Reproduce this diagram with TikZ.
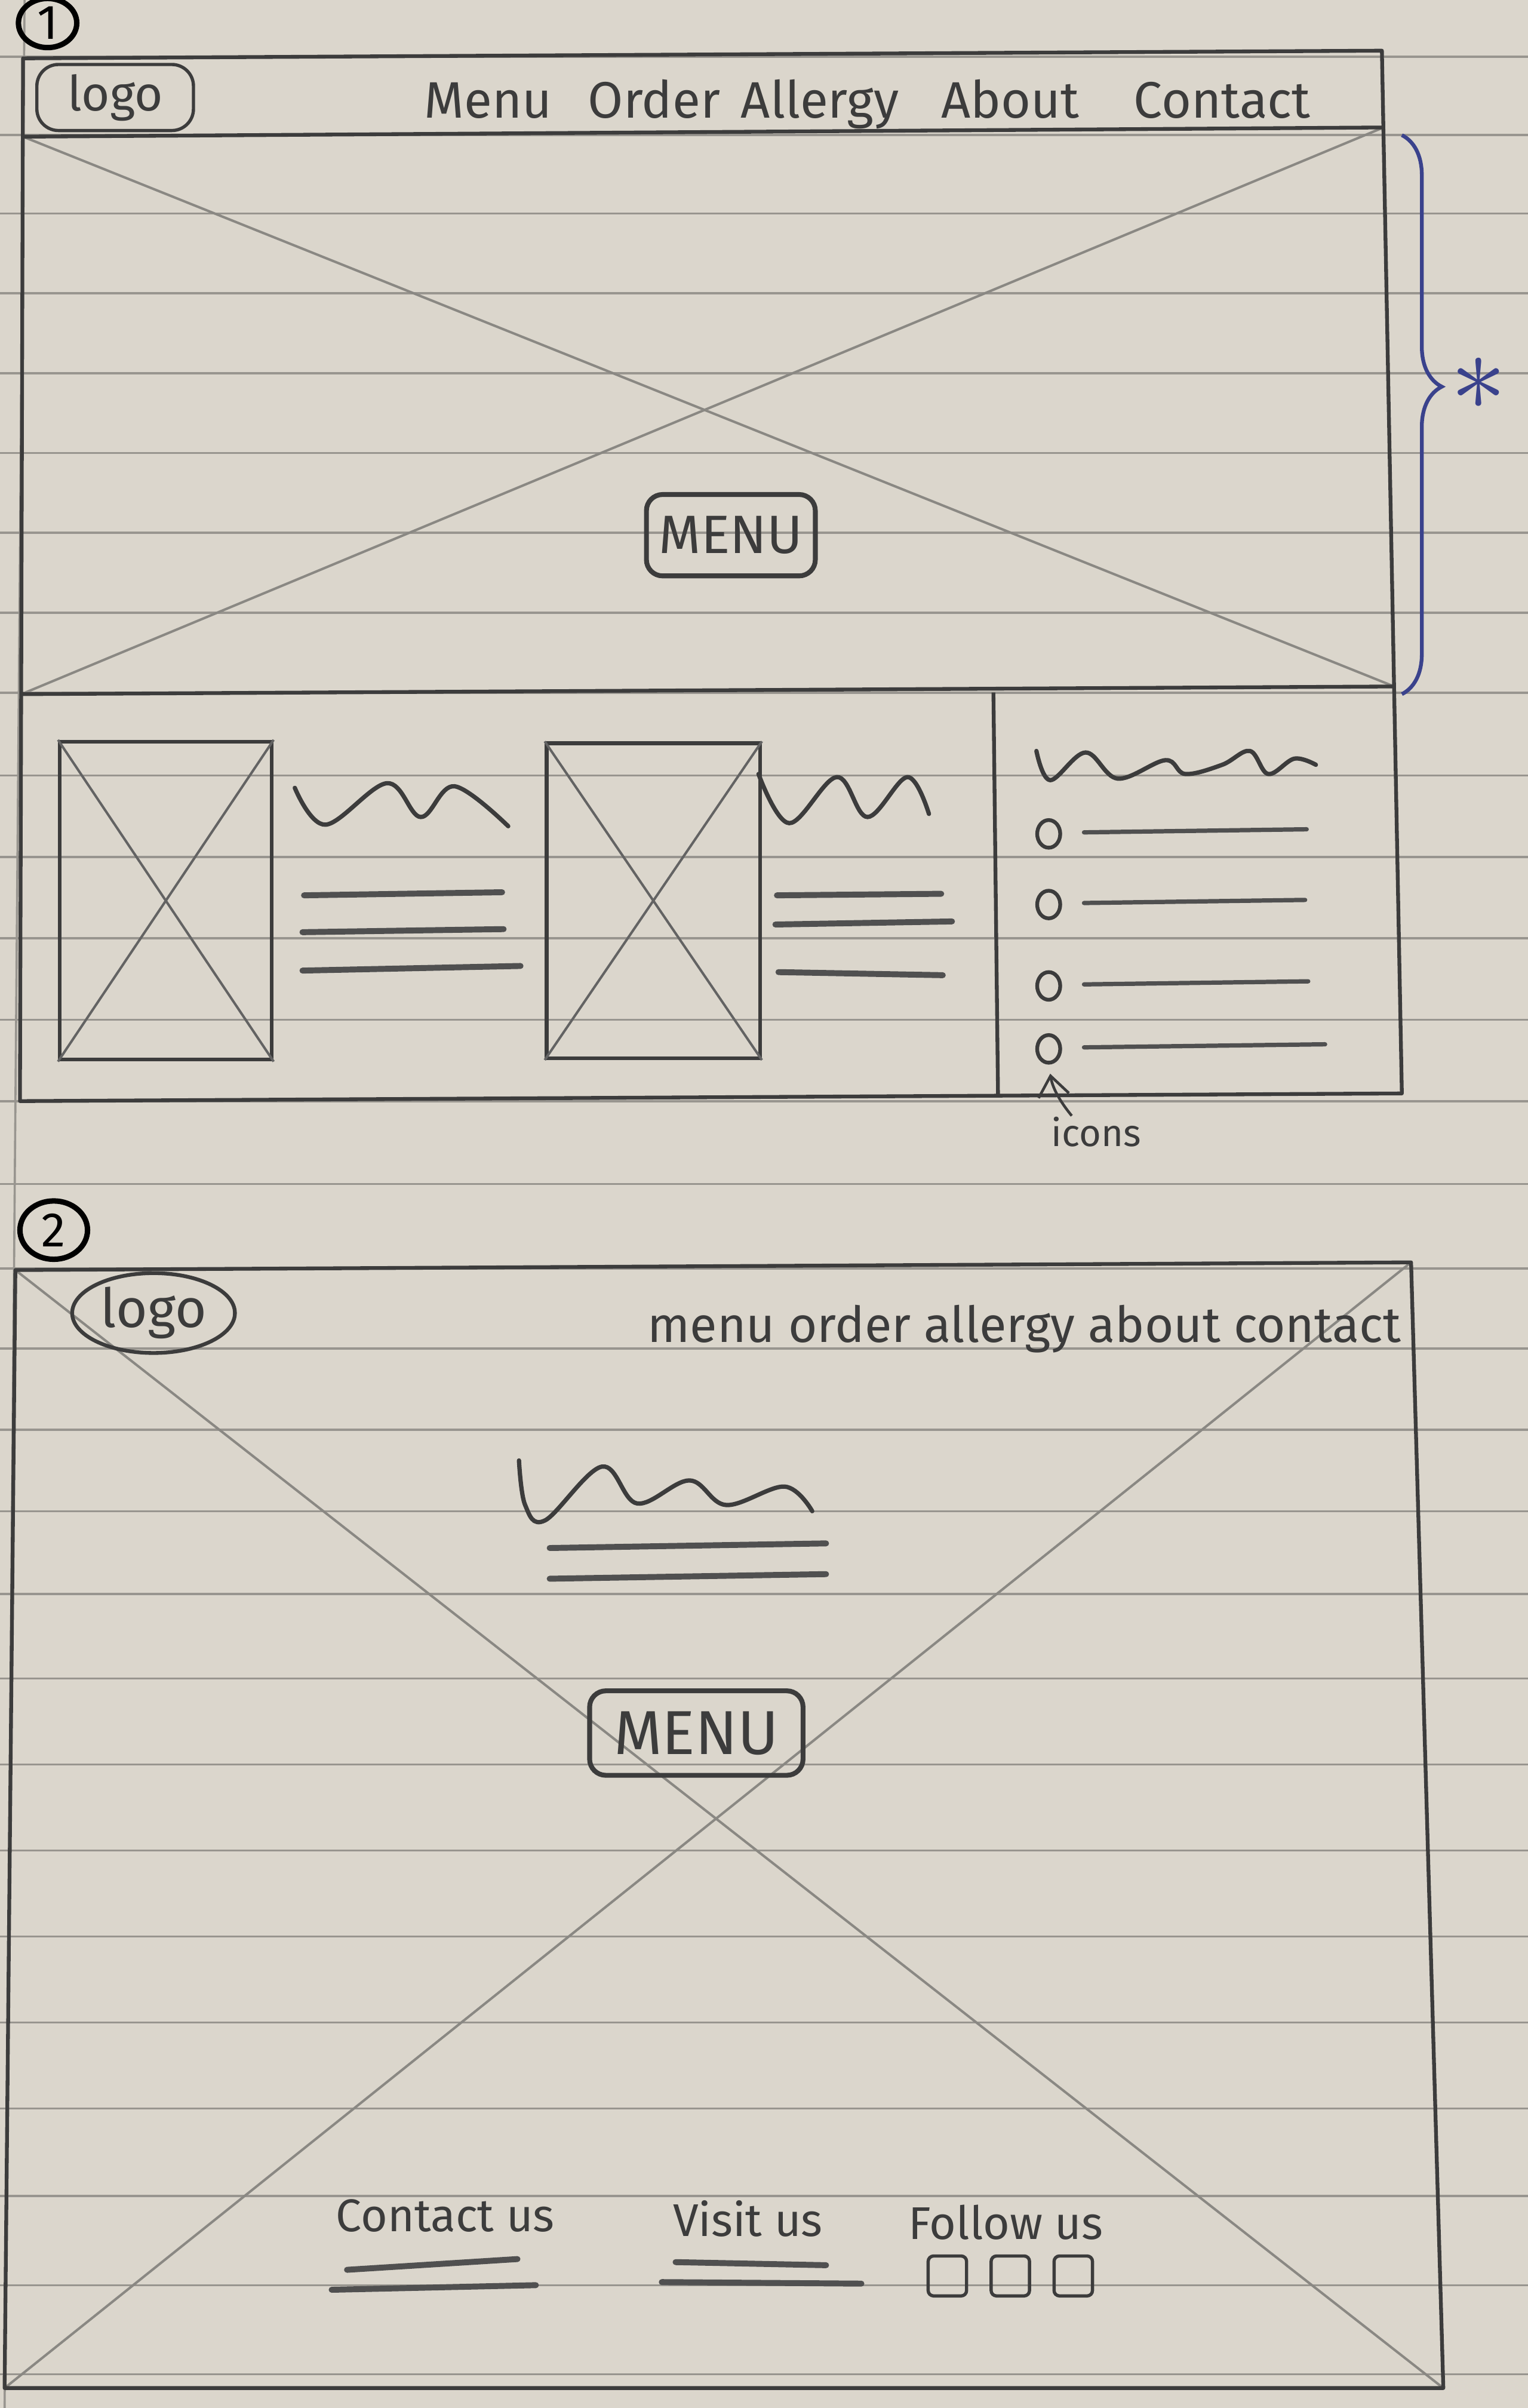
\documentclass[tikz,border=0pt]{standalone}
\usepackage{fontspec}
\setmainfont{Fira Sans}
\usetikzlibrary{arrows.meta, positioning, shapes.geometric, decorations.pathreplacing}

\definecolor{paper}{RGB}{219,214,204}
\definecolor{pencil}{RGB}{60,60,60}
\definecolor{faintpencil}{RGB}{138,136,131}
\definecolor{ruleline}{RGB}{152,149,143}
\definecolor{ink}{RGB}{58,66,140}

\tikzset{
  paperrule/.style={draw=ruleline, line width=0.4pt},
  boxline/.style={draw=pencil, line width=0.7pt, line join=round},
  xline/.style={draw=faintpencil, line width=0.45pt},
  scribble/.style={draw=pencil, line width=0.8pt, line cap=round, line join=round},
  textline/.style={draw=pencil!90, line width=1.1pt, line cap=round},
  navtxt/.style={font=\fontsize{9.5}{11}\selectfont, text=pencil, inner sep=0pt, anchor=base},
  smalltxt/.style={font=\fontsize{8.5}{10}\selectfont, text=pencil, inner sep=0pt},
  logobox/.style={
    rectangle, draw=pencil, line width=0.6pt, rounded corners=4pt,
    minimum width=1.02cm, minimum height=0.43cm,
    font=\fontsize{9}{10}\selectfont, text=pencil, inner sep=1pt,
  },
  logooval/.style={
    ellipse, draw=pencil, line width=0.7pt,
    minimum width=1.06cm, minimum height=0.52cm,
    font=\fontsize{10}{11}\selectfont, text=pencil, inner sep=0pt,
  },
  btn/.style={
    rectangle, draw=pencil, line width=0.9pt, rounded corners=3pt,
    minimum width=1.1cm, minimum height=0.53cm,
    font=\fontsize{10}{11}\selectfont, text=pencil, inner sep=1pt,
  },
  pagenum/.style={
    ellipse, draw=black, line width=1pt, inner sep=0pt,
    minimum width=0.38cm, minimum height=0.32cm,
    font=\fontsize{9}{10}\selectfont,
  },
  imgbox/.style={rectangle, draw=pencil, line width=0.7pt, inner sep=0pt},
  iconring/.style={
    ellipse, draw=pencil, line width=0.7pt, inner sep=0pt,
    minimum width=0.15cm, minimum height=0.18cm,
  },
  sqicon/.style={
    rectangle, draw=pencil, line width=0.6pt, rounded corners=1pt,
    minimum width=0.25cm, minimum height=0.26cm, inner sep=0pt,
  },
  arrow/.style={-{Straight Barb[length=1.3mm, width=2mm]}, draw=pencil, line width=0.5pt},
  bracket/.style={
    draw=ink, line width=0.7pt, decorate,
    decoration={brace, amplitude=2.6mm, aspect=0.45},
  },
}

\begin{document}
\begin{tikzpicture}

  % paper
  \fill[paper] (0,0) rectangle (9.95,-15.68);
  \useasboundingbox (0,0) rectangle (9.95,-15.68);
  \foreach \y in {0.37,0.88,1.39,1.91,2.43,2.95,3.47,3.99,4.51,5.05,5.58,6.11,6.64,
                  7.17,7.71,8.26,8.78,9.31,9.84,10.38,10.93,11.49,12.05,12.61,
                  13.17,13.73,14.30,14.88,15.46}
    \draw[paperrule] (0,-\y) -- (9.95,-\y);
  \draw[paperrule] (0.16,0) -- (0.03,-15.68);

  % ---- wireframe 1 ----
  \node[pagenum] (num1) at (0.31,-0.15) {1};

  \coordinate (f1tl) at (0.15,-0.38);
  \coordinate (f1tr) at (9.00,-0.33);
  \coordinate (f1br) at (9.13,-7.12);
  \coordinate (f1bl) at (0.13,-7.17);
  \coordinate (navl) at (0.15,-0.89);
  \coordinate (navr) at (9.01,-0.83);
  \coordinate (herol) at (0.14,-4.52);
  \coordinate (heror) at (9.08,-4.47);

  \draw[xline] (navl) -- (heror);
  \draw[xline] (herol) -- (navr);
  \draw[boxline] (f1tl) -- (f1tr) -- (f1br) -- (f1bl) -- cycle;
  \draw[boxline] (navl) -- (navr);
  \draw[boxline] (herol) -- (heror);

  \node[logobox] (logo1) at (0.75,-0.635) {logo};
  \node[navtxt] (nmenu)    at (3.18,-0.77) {Menu};
  \node[navtxt] (norder)   at (4.26,-0.77) {Order};
  \node[navtxt] (nallergy) at (5.34,-0.77) {Allergy};
  \node[navtxt] (nabout)   at (6.58,-0.77) {About};
  \node[navtxt] (ncontact) at (7.96,-0.77) {Contact};

  \node[btn] (menu1) at (4.76,-3.485) {MENU};

  \draw[bracket] (9.13,-0.88) -- (9.13,-4.52);
  \node[text=ink, font=\fontsize{20}{20}\selectfont] (star) at (9.63,-2.50) {$\ast$};

  % cards
  \node[imgbox, minimum width=1.38cm, minimum height=2.07cm] (img1) at (1.08,-5.865) {};
  \draw[xline, draw=pencil!80] (img1.north west) -- (img1.south east);
  \draw[xline, draw=pencil!80] (img1.south west) -- (img1.north east);
  \draw[scribble] plot[smooth, tension=0.6] coordinates
    {(1.92,-5.13) (2.12,-5.37) (2.52,-5.10) (2.74,-5.32) (2.96,-5.12) (3.31,-5.38)};
  \draw[textline] (1.98,-5.83) -- (3.27,-5.81);
  \draw[textline] (1.97,-6.07) -- (3.28,-6.05);
  \draw[textline] (1.97,-6.32) -- (3.39,-6.29);

  \node[imgbox, minimum width=1.39cm, minimum height=2.05cm] (img2) at (4.255,-5.865) {};
  \draw[xline, draw=pencil!80] (img2.north west) -- (img2.south east);
  \draw[xline, draw=pencil!80] (img2.south west) -- (img2.north east);
  \draw[scribble] plot[smooth, tension=0.6] coordinates
    {(4.94,-5.04) (5.14,-5.36) (5.45,-5.06) (5.65,-5.32) (5.91,-5.06) (6.05,-5.30)};
  \draw[textline] (5.06,-5.83) -- (6.13,-5.82);
  \draw[textline] (5.05,-6.02) -- (6.20,-6.00);
  \draw[textline] (5.07,-6.33) -- (6.14,-6.35);

  % list column
  \draw[boxline] (6.47,-4.51) -- (6.50,-7.14);
  \draw[scribble] plot[smooth, tension=0.6] coordinates
    {(6.75,-4.89) (6.84,-5.08) (7.07,-4.90) (7.28,-5.07) (7.59,-4.95) (7.72,-5.04)
     (7.96,-4.98) (8.14,-4.89) (8.26,-5.04) (8.43,-4.94) (8.57,-4.98)};
  \foreach \y/\e [count=\i] in {5.43/8.51, 5.89/8.50, 6.42/8.52, 6.83/8.63} {
    \node[iconring] (ic\i) at (6.83,-\y) {};
    \draw[textline, line width=0.8pt] (7.06,-\y+0.01) -- (\e,-\y+0.03);
  }
  \node[smalltxt, font=\fontsize{7}{8}\selectfont] (iconlbl) at (7.14,-7.37) {icons};
  \draw[arrow, shorten >=0.6mm] ([xshift=-1.6mm]iconlbl.north) to[bend left=15] (ic4.south);

  % ---- wireframe 2 ----
  \node[pagenum, minimum width=0.44cm, minimum height=0.38cm] (num2) at (0.35,-8.01) {2};

  \coordinate (f2tl) at (0.10,-8.27);
  \coordinate (f2tr) at (9.19,-8.22);
  \coordinate (f2br) at (9.40,-15.55);
  \coordinate (f2bl) at (0.03,-15.55);

  \draw[xline] (f2tl) -- (f2br);
  \draw[xline] (f2tr) -- (f2bl);
  \draw[boxline] (f2tl) -- (f2tr) -- (f2br) -- (f2bl) -- cycle;

  \node[logooval] (logo2) at (1.00,-8.55) {logo};
  \node[smalltxt, anchor=base east, font=\fontsize{9.2}{10}\selectfont] (nav2)
    at (9.13,-8.74) {menu order allergy about contact};

  \draw[scribble] plot[smooth, tension=0.6] coordinates
    {(3.38,-9.51) (3.42,-9.80) (3.55,-9.90) (3.92,-9.55) (4.15,-9.79) (4.49,-9.64)
     (4.73,-9.80) (5.11,-9.68) (5.29,-9.84)};
  \draw[textline] (3.58,-10.08) -- (5.38,-10.05);
  \draw[textline] (3.58,-10.28) -- (5.38,-10.25);

  \node[btn, minimum width=1.39cm, minimum height=0.55cm,
        font=\fontsize{11.5}{12}\selectfont] (menu2) at (4.535,-11.285) {MENU};

  % footer
  \node[smalltxt, anchor=base] (fcontact) at (2.90,-14.53) {Contact us};
  \node[smalltxt, anchor=base] (fvisit)   at (4.87,-14.56) {Visit us};
  \node[smalltxt, anchor=base] (ffollow)  at (6.55,-14.58) {Follow us};
  \draw[textline] (2.26,-14.78) -- (3.37,-14.71);
  \draw[textline] (2.16,-14.91) -- (3.49,-14.88);
  \draw[textline] (4.40,-14.73) -- (5.38,-14.75);
  \draw[textline] (4.31,-14.86) -- (5.61,-14.87);
  \foreach \x [count=\i] in {6.17,6.58,6.99}
    \node[sqicon] (sq\i) at (\x,-14.82) {};

\end{tikzpicture}
\end{document}
